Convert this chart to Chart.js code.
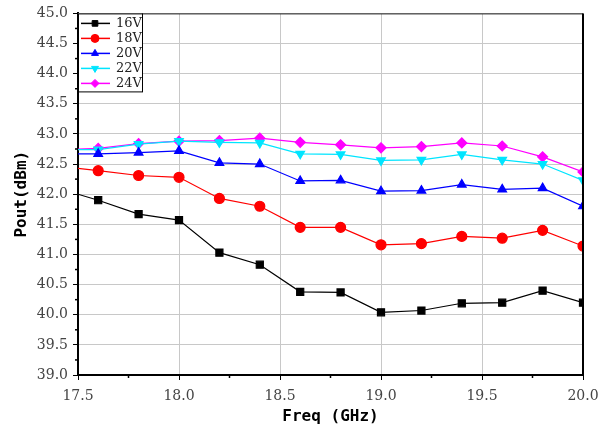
<!DOCTYPE html>
<html>
<head>
<meta charset="utf-8">
<script src="https://cdn.jsdelivr.net/npm/chart.js@4"></script>
<style>
html,body{margin:0;padding:0;background:#fff;}
#wrap{width:598px;height:430px;}
</style>
</head>
<body>
<div id="wrap"><canvas id="c" width="598" height="430"></canvas></div>
<script>
// frequency points (GHz)
const freq = [17.5, 17.6, 17.8, 18.0, 18.2, 18.4, 18.6, 18.8, 19.0, 19.2, 19.4, 19.6, 19.8, 20.0];
const v16 = [42.00, 41.90, 41.67, 41.57, 41.03, 40.83, 40.38, 40.37, 40.04, 40.07, 40.19, 40.20, 40.40, 40.20];
const v18 = [42.43, 42.39, 42.31, 42.28, 41.93, 41.80, 41.45, 41.45, 41.16, 41.18, 41.30, 41.27, 41.40, 41.14];
const v20 = [42.67, 42.67, 42.69, 42.72, 42.52, 42.50, 42.22, 42.23, 42.05, 42.06, 42.16, 42.08, 42.10, 41.80];
const v22 = [42.74, 42.74, 42.83, 42.88, 42.86, 42.85, 42.67, 42.66, 42.56, 42.57, 42.66, 42.57, 42.50, 42.23];
const v24 = [42.75, 42.76, 42.84, 42.88, 42.89, 42.93, 42.86, 42.82, 42.77, 42.79, 42.85, 42.80, 42.62, 42.37];
const labels = ['16V', '18V', '20V', '22V', '24V'];

const tickFont = {family:'"DejaVu Serif", serif', size:14};
const radii = freq.map((f,i)=> i===0 ? 0 : 5);

function ds(label, vals, color, style, rot) {
    return { label, data: freq.map((f,i)=>({x:f, y:vals[i]})), borderColor: color, backgroundColor: color,
        borderWidth: 1.2, pointStyle: style, pointRotation: rot||0, pointRadius: radii, pointHoverRadius: radii, clip: 0 };
}

const extras = {
    id:'extras',
    afterDraw(chart) {
        const c = chart.ctx, a = chart.chartArea, x = chart.scales.x, y = chart.scales.y;
        c.save();
        // minor ticks
        c.strokeStyle = '#000'; c.lineWidth = 1.5;
        for (let v = 17.75; v < 20; v += 0.5) { const px = x.getPixelForValue(v); c.beginPath(); c.moveTo(px, a.bottom); c.lineTo(px, a.bottom+3); c.stroke(); }
        for (let v = 39.25; v < 45; v += 0.5) { const py = y.getPixelForValue(v); c.beginPath(); c.moveTo(a.left, py); c.lineTo(a.left-3, py); c.stroke(); }
        // frame
        c.strokeStyle = '#222'; c.lineWidth = 1;
        c.beginPath(); c.moveTo(a.left, a.top+0.5); c.lineTo(a.right, a.top+0.5); c.stroke();
        c.strokeStyle = '#000'; c.lineWidth = 2;
        c.beginPath(); c.moveTo(a.right, a.top); c.lineTo(a.right, a.bottom); c.stroke();
        // legend box
        const lx = a.left, ly = a.top, lw = 64, lh = 78;
        c.fillStyle = '#fff'; c.fillRect(lx, ly, lw, lh);
        c.strokeStyle = '#000'; c.lineWidth = 1; c.strokeRect(lx+0.5, ly+0.5, lw, lh);
        chart.data.datasets.forEach((d, i) => {
            const yy = ly + 10 + i*15;
            c.strokeStyle = d.borderColor; c.lineWidth = 1.5;
            c.beginPath(); c.moveTo(lx+3, yy); c.lineTo(lx+32, yy); c.stroke();
            c.fillStyle = d.borderColor; c.lineWidth = 1;
            Chart.helpers.drawPoint(c, {pointStyle:d.pointStyle, rotation:d.pointRotation, radius:4, borderWidth:1}, lx+17, yy);
            c.fillStyle = '#222'; c.font = '13px "DejaVu Serif", serif'; c.textBaseline = 'middle'; c.textAlign = 'left';
            c.fillText(d.label, lx+38, yy);
        });
        c.restore();
    }
};

new Chart(document.getElementById('c'), {
    type: 'line',
    data: { datasets: [
        ds(labels[0], v16, '#000000', 'rect'),
        ds(labels[1], v18, '#ff0000', 'circle'),
        ds(labels[2], v20, '#0000ff', 'triangle'),
        ds(labels[3], v22, '#00e5ff', 'triangle', 180),
        ds(labels[4], v24, '#ff00ff', 'rectRot')
    ]},
    options: {
        responsive: false, animation: false,
        layout: { padding: { top: 12, right: 0, left: 8, bottom: 0 } },
        plugins: { legend: { display: false }, tooltip: { enabled: false } },
        scales: {
            x: { type: 'linear', min: 17.5, max: 20.0,
                ticks: { stepSize: 0.5, font: tickFont, color: '#444', padding: 8, maxRotation: 0, callback: v => v.toFixed(1) },
                grid: { color: '#c8c8c8', tickColor: '#000', tickLength: 5, lineWidth: 1 },
                border: { color: '#000', width: 2 },
                title: { display: true, text: 'Freq (GHz)', font: { family: '"DejaVu Sans Mono", monospace', size: 16, weight: 'bold' }, color: '#000', padding: { top: 0 } },
                afterFit: s => { s.height = 55; s.paddingRight = 15; } },
            y: { min: 39.0, max: 45.0,
                ticks: { stepSize: 0.5, font: tickFont, color: '#444', padding: 5, callback: v => v.toFixed(1) },
                grid: { color: '#c8c8c8', tickColor: '#000', tickLength: 5, lineWidth: 1 },
                border: { color: '#000', width: 2 },
                title: { display: true, text: 'Pout(dBm)', font: { family: '"DejaVu Sans Mono", monospace', size: 16, weight: 'bold' }, color: '#000', padding: { bottom: 0 } },
                afterFit: s => { s.width = 70; } }
        }
    },
    plugins: [extras]
});
</script>
</body>
</html>
